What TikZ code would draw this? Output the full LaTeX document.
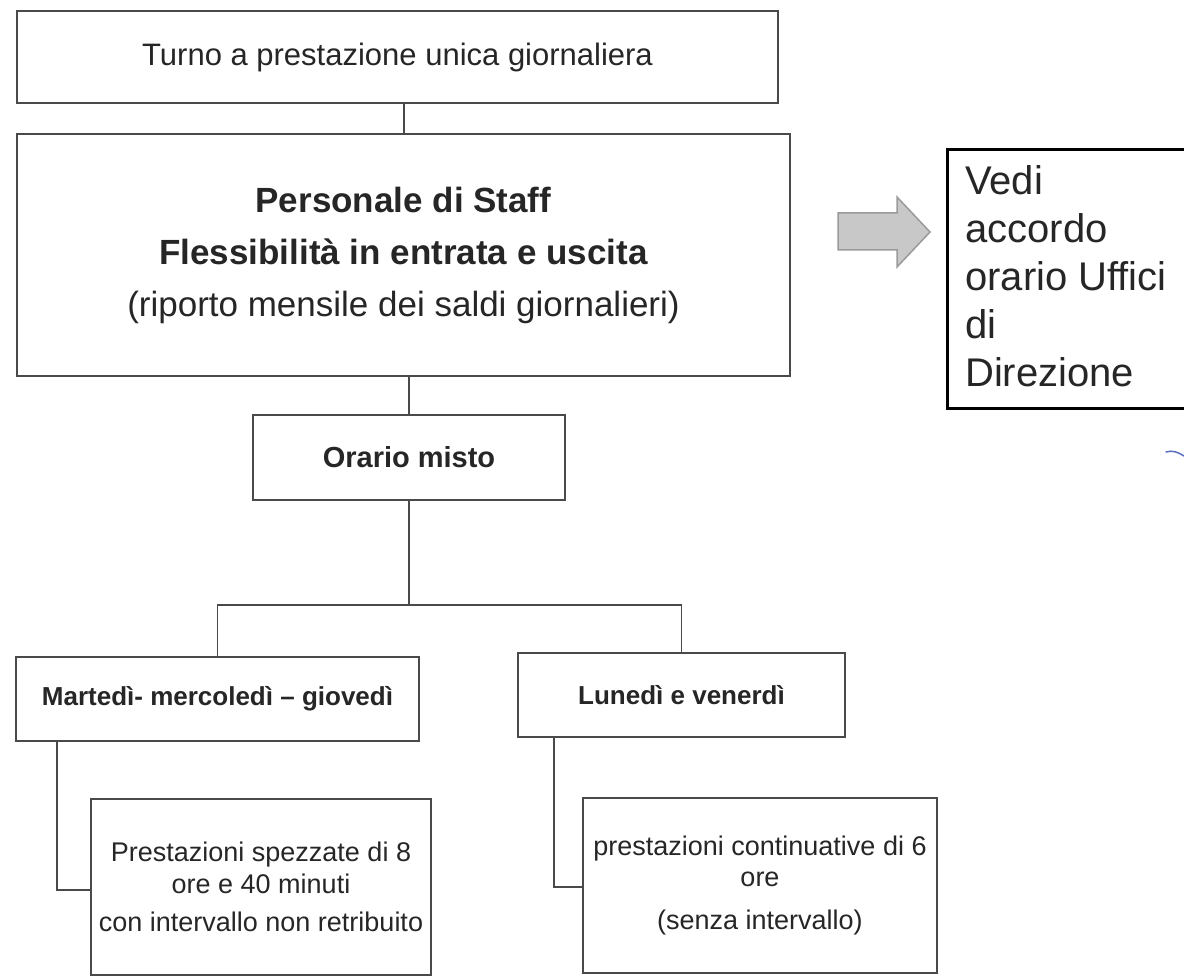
\documentclass[tikz,border=0pt]{standalone}
\usepackage{fontspec}
\setmainfont{Liberation Sans}
\usetikzlibrary{calc}
\definecolor{ink}{HTML}{262626}
\definecolor{linec}{HTML}{4A4A4A}
\definecolor{arrfill}{HTML}{C8C8C8}
\definecolor{arrline}{HTML}{9A9A9A}
\definecolor{penblue}{HTML}{5A6FC0}
\begin{document}
\begin{tikzpicture}[x=1pt,y=-1pt,
  box/.style={draw=linec, line width=1.3pt, fill=white, rectangle, inner sep=0pt, align=center, text=ink},
  conn/.style={draw=linec, line width=1.3pt},
  bigarrow/.style={draw=arrline, line width=1.5pt, fill=arrfill, line join=miter}]
\useasboundingbox (0,0) rectangle (1184,976);
\fill[white] (0,0) rectangle (1184,976);

\node[box, minimum width=761pt, minimum height=92pt, font=\fontsize{31}{37}\selectfont] (turno) at (397.5,57) {Turno a prestazione unica giornaliera};

\node[box, minimum width=773pt, minimum height=242pt, font=\fontsize{35}{52}\selectfont] (staff) at (403.5,255) {\textbf{Personale di Staff}\\\textbf{Flessibilità in entrata e uscita}\\(riporto mensile dei saldi giornalieri)};

\node[box, minimum width=312pt, minimum height=85pt, font=\bfseries\fontsize{29}{35}\selectfont] (misto) at (409,457.5) {Orario misto};

\node[box, minimum width=403pt, minimum height=84pt, font=\bfseries\fontsize{26}{31}\selectfont] (mar) at (217.5,699) {Martedì- mercoledì – giovedì};

\node[box, minimum width=327pt, minimum height=84pt, font=\bfseries\fontsize{26}{31}\selectfont] (lun) at (681.5,695) {Lunedì e venerdì};

\node[box, minimum width=340pt, minimum height=176pt, font=\fontsize{27}{32}\selectfont] (spez) at (261,887) {Prestazioni spezzate di 8\\ore e 40 minuti\\[6pt]con intervallo non retribuito};

\node[box, minimum width=354pt, minimum height=175pt, font=\fontsize{27}{31}\selectfont] (cont) at (760,885.5) {prestazioni continuative di 6\\ore\\[12pt](senza intervallo)};

\node[draw=black, line width=3pt, fill=white, minimum width=253pt, minimum height=258pt, inner sep=0pt] (vedi) at (1073.5,279) {};
\node[anchor=west, align=left, inner sep=0pt, font=\fontsize{40}{48}\selectfont, text=ink] (veditext) at (965,276) {Vedi\\accordo\\orario Uffici\\di\\Direzione};

% connectors
\coordinate (x1) at (404,0);
\draw[conn] (x1 |- turno.south) -- (x1 |- staff.north);
\draw[conn] (staff.south -| misto.north) -- (misto.north);
\coordinate (bus) at (410,605);
\draw[conn] (misto.south) -- (misto.south |- bus);
\draw[conn] (mar.north) -- (mar.north |- bus) -| (lun.north);
\coordinate (k1) at (57,890);
\draw[conn] (mar.south -| k1) -- (k1) -- (k1 -| spez.west);
\coordinate (k2) at (554,887);
\draw[conn] (lun.south -| k2) -- (k2) -- (k2 -| cont.west);

% block arrow pointing to the box
\draw[bigarrow] (838,213) -- (897,213) -- (897,197) -- (930,232) -- (897,267) -- (897,250) -- (838,250) -- cycle;

% small pen mark
\draw[penblue, line width=1.5pt, line cap=round] (1166,452) .. controls (1172,450) and (1178,452) .. (1184,456);
\end{tikzpicture}
\end{document}
